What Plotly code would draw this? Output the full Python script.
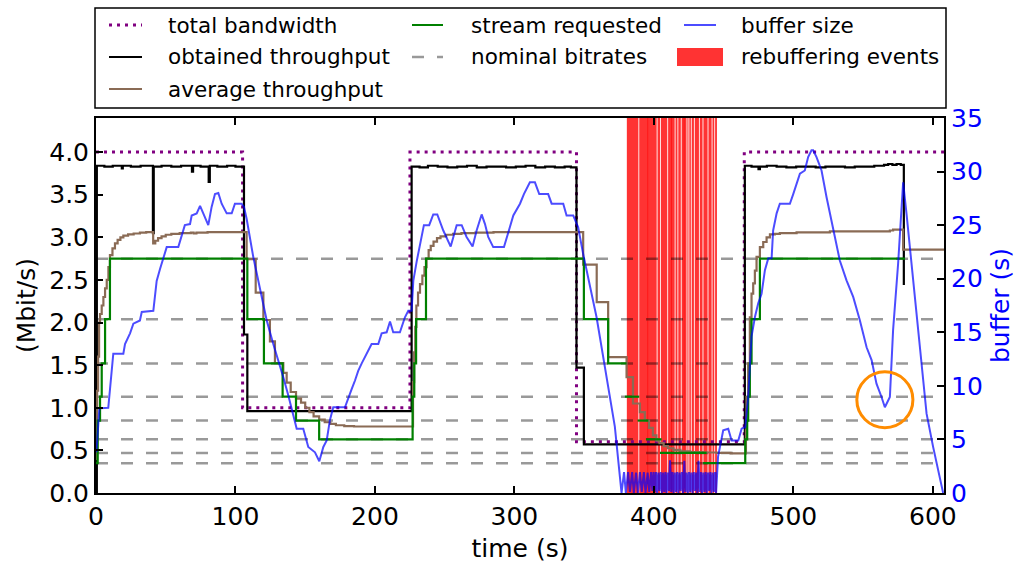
import plotly.graph_objects as go

# ---------------- data ----------------
# total available bandwidth (Mbit/s), step function
bw_t = [0, 105.1, 225.1, 344.5, 464.8, 608]
bw_v = [4.0, 1.0, 4.0, 0.6, 4.0, 4.0]

# obtained throughput (Mbit/s)
obt_t = [0, 0.6, 6, 12, 18.5, 19.2, 25, 32, 40.8, 41.4, 47, 54, 61, 68.8, 69.6, 75,
         80.8, 81.6, 87, 94, 100, 106.1, 108.5, 226.3, 232, 238, 245, 252, 259, 266,
         273, 280, 287, 294, 301, 308, 315, 322, 329, 336, 340.5, 344.5, 349.8, 465.2,
         470, 475, 476, 481, 488, 495, 502, 509, 516, 523, 530, 537, 544, 551, 558,
         565, 568, 571, 574, 577, 579.2]
obt_v = [0, 3.84, 3.83, 3.84, 3.81, 3.84, 3.83, 3.84, 3.05, 3.83, 3.84, 3.83, 3.84, 3.77,
         3.84, 3.83, 3.65, 3.84, 3.83, 3.84, 3.83, 1.86, 0.96, 3.83, 3.82, 3.84, 3.83,
         3.82, 3.83, 3.84, 3.82, 3.83, 3.83, 3.82, 3.83, 3.84, 3.82, 3.83, 3.82, 3.83,
         3.82, 1.47, 0.57, 3.84, 3.83, 3.80, 3.83, 3.84, 3.83, 3.82, 3.83, 3.83, 3.82,
         3.83, 3.83, 3.82, 3.83, 3.83, 3.84, 3.85, 3.86, 3.85, 3.86, 3.85, 2.44]

# average throughput (Mbit/s)
avg_t = [0, 0.8, 1.5, 2.2, 2.9, 4.1, 5.3, 6.5, 7.7, 8.9, 10.0, 11.8, 13.6, 15.5, 17.5,
         19.6, 23, 27, 31.5, 36, 41.0, 42.5, 44.5, 47, 50, 54, 60, 68, 70, 72, 80,
         108.0, 114.5, 120.0, 124.7, 128.3, 134.3, 136.7, 139.6, 143.4, 147, 150, 153,
         156, 160, 164, 168, 172, 178, 185, 227.3, 228.1, 228.9, 229.7, 230.9, 232.3,
         234, 235.5, 237, 238.5, 240, 242, 244.5, 247, 251, 256, 262, 272, 285, 349.3,
         359.0, 367.2, 380.4, 385, 390, 393.5, 396.5, 399.3, 401.8, 404, 407, 410, 414,
         419, 426, 435, 445, 455, 466.0, 466.4, 467.6, 468.8, 470.0, 471.2, 472.4,
         473.6, 476.0, 478.4, 480.8, 483.2, 486.7, 490.3, 502.3, 526.2, 569.2, 571.5,
         578.7, 608]
avg_v = [0.4, 1.2, 1.6, 2.0, 2.1, 2.2, 2.3, 2.4, 2.5, 2.65, 2.79, 2.87, 2.93, 2.97, 3.0,
         3.02, 3.035, 3.045, 3.055, 3.06, 2.93, 2.96, 2.99, 3.01, 3.03, 3.04, 3.05,
         3.055, 3.045, 3.055, 3.06, 2.745, 2.35, 2.03, 1.78, 1.525, 1.41, 1.295, 1.185,
         1.107, 1.06, 1.0, 0.95, 0.9, 0.86, 0.83, 0.81, 0.795, 0.785, 0.78, 1.3, 1.65,
         1.95, 2.2, 2.35, 2.45, 2.55, 2.65, 2.75, 2.85, 2.9, 2.95, 2.99, 3.01, 3.03,
         3.04, 3.05, 3.055, 3.06, 2.68, 2.24, 1.595, 1.36, 1.05, 0.95, 0.85, 0.765,
         0.677, 0.615, 0.585, 0.55, 0.525, 0.505, 0.49, 0.48, 0.475, 0.47, 0.465, 0.735,
         1.126, 1.52, 2.06, 2.34, 2.46, 2.61, 2.77, 2.885, 2.945, 3.0, 3.035, 3.04, 3.05,
         3.058, 3.07, 3.08, 3.09, 2.855, 2.855]

# requested stream bitrate (Mbit/s); None marks breaks during rebuffering
req_t = [0, 1.2, 2.9, 4.1, 6.5, 10.0, 108.5, 120.4, 133.8, 143.4, 160.0, 227.0, 228.2,
         229.5, 236.6, 349.8, 367.2, 380.4, None, 379.2, 389.5, None, 388.3, 396.0,
         None, 394.3, 405.5, None, 404.3, 437.8, None, 435.3, 465.5, 466.9, 467.6,
         468.8, 470.0, 476.0, 580.0]
req_v = [0.35, 0.85, 1.13, 1.52, 2.04, 2.75, 2.04, 1.52, 1.13, 0.85, 0.63, 1.13, 1.52,
         2.04, 2.75, 2.04, 1.52, 1.52, None, 1.13, 1.13, None, 0.85, 0.85, None, 0.63,
         0.63, None, 0.47, 0.47, None, 0.35, 0.63, 0.85, 1.13, 1.52, 2.04, 2.75, 2.75]

# nominal bitrates of the available representations (Mbit/s)
nominal = [0.35, 0.47, 0.63, 0.85, 1.13, 1.52, 2.04, 2.75]

# playback buffer (s)
buf_t = [0.3, 2.4, 8.8, 12.4, 19.6, 20.8, 24.4, 26.8, 31.5, 32.8, 41.1, 43.5, 45.9, 48.3,
         50.7, 59.0, 61.4, 63.7, 67.4, 68.6, 72.2, 74.6, 76.9, 80.5, 82.9, 85.3, 87.7,
         90.1, 93.7, 97.3, 99.6, 104.4, 106.1, 108.0, 112.8, 117.6, 122.4, 127.1, 130.7,
         134.3, 137.9, 141.4, 143.9, 148.6, 152.2, 157.0, 160.1, 163.0, 165.4, 167.7,
         170.1, 178.5, 180.9, 183.3, 185.7, 188.0, 190.5, 194.1, 197.6, 202.4, 204.8,
         208.4, 210.8, 213.1, 217.9, 221.5, 223.9, 226.3, 227.5, 229.9, 232.3, 235.1,
         238.9, 241.8, 244.7, 249.0, 254.3, 258.6, 262.2, 265.7, 270.0, 272.9, 276.5,
         278.9, 281.2, 284.8, 292.5, 295.6, 299.2, 304.0, 306.8, 311.1, 314.7, 317.8,
         324.2, 326.7, 335.0, 337.4, 342.2, 345.7, 349.3, 358.9, 366.1, 372.0, 376.8,
         378.6, 379.9, 381.5, 382.8, 384.4, 385.6, 387.2, 388.5, 390.0, 391.3, 392.8,
         394.0, 395.5, 396.7, 398.0, 398.9, 399.8, 400.6, 401.5, 402.3, 403.2, 404.0,
         404.9, 405.7, 406.6, 407.4, 408.3, 409.1, 410.0, 410.8, 411.6, 412.4, 413.3,
         414.1, 415.0, 415.8, 416.7, 417.5, 418.4, 419.2, 420.1, 420.9, 421.8, 422.6,
         423.5, 424.3, 425.2, 426.0, 426.9, 427.7, 428.6, 429.4, 430.3, 431.1, 432.0,
         432.8, 433.7, 434.5, 435.4, 436.2, 437.1, 437.9, 438.8, 439.6, 440.5, 441.3,
         442.2, 443.0, 443.9, 444.6, 446.0, 449.7, 453.3, 455.7, 460.5, 462.9, 465.5,
         467.6, 468.8, 470.0, 472.4, 474.8, 477.2, 479.6, 482.0, 484.4, 485.5, 488.0,
         490.3, 497.5, 499.9, 502.3, 504.7, 508.2, 510.6, 513.0, 514.2, 516.6, 520.2,
         523.8, 528.5, 533.3, 538.1, 542.9, 547.7, 552.5, 556.1, 559.6, 563.2, 565.6,
         569.2, 571.5, 575.1, 578.7, 581.1, 585.9, 590.7, 595.5, 600.2, 607.4]
buf_v = [3.8, 7.9, 7.95, 13.0, 13.0, 13.9, 14.9, 15.8, 16.1, 16.9, 17.0, 19.8, 20.9, 22.0,
         22.95, 22.95, 24.0, 25.0, 25.1, 25.9, 26.1, 26.8, 26.1, 25.0, 26.7, 27.9, 28.0,
         27.0, 26.1, 26.1, 27.0, 27.0, 26.7, 25.6, 22.0, 18.9, 16.1, 13.9, 12.4, 10.8,
         9.1, 7.4, 6.0, 6.0, 4.3, 3.8, 2.96, 4.3, 4.9, 6.8, 8.0, 8.0, 8.96, 9.7, 10.5,
         11.4, 12.1, 13.0, 13.9, 13.9, 14.9, 15.0, 16.0, 15.0, 15.0, 16.4, 17.0, 17.0,
         19.8, 21.6, 23.3, 25.0, 25.0, 26.0, 26.0, 24.5, 23.0, 25.0, 25.0, 23.9, 23.0,
         24.5, 26.0, 25.1, 23.9, 22.95, 22.95, 24.4, 25.9, 27.0, 27.9, 29.0, 29.0, 27.9,
         27.9, 27.0, 27.0, 25.9, 25.9, 24.8, 22.3, 16.4, 10.8, 6.2, 0.0,
         1.95, 0.0, 1.95, 0.1, 1.95, 0.0, 1.9, 0.0, 1.95, 0.1, 1.95,
         0.0, 1.9, 0.1, 1.95, 0.2, 1.95, 0.1, 1.95, 0.0, 1.9, 0.2,
         1.95, 0.0, 1.9, 0.1, 1.95, 0.0, 1.9, 0.2, 3.05, 0.1, 1.95,
         0.0, 1.9, 0.1, 1.95, 0.0, 1.9, 0.2, 1.95, 0.0, 3.0, 0.1,
         1.9, 0.0, 1.95, 0.1, 1.9, 0.0, 1.95, 0.2, 1.9, 0.0, 3.0,
         0.1, 1.95, 0.0, 1.9, 0.1, 1.95, 0.0, 1.9, 0.2, 1.95, 0.0,
         1.9, 0.1, 1.95, 0.0, 3.4, 5.85, 6.0, 4.9, 4.9, 6.0, 6.16,
         8.96, 12.1, 14.6, 16.4, 17.7, 18.6, 20.8, 21.9, 21.9, 24.5, 26.1,
         27.0, 27.0, 27.9, 28.9, 29.8, 30.1, 31.35, 31.98, 31.98, 31.35, 30.1,
         27.6, 24.5, 21.7, 19.85, 18.3, 16.1, 13.6, 12.4, 10.2, 8.96, 8.0,
         8.96, 15.2, 21.4, 29.0, 26.1, 19.85, 13.6, 7.4, 4.3, 0.0]

# rebuffering events (start, end in s)
rb_start = [380.6, 389.5, 395.4, 402.6, 405.0, 410.2, 412.3, 415.5, 417.5, 419.9, 421.4,
            424.0, 425.4, 427.1, 429.3, 432.9, 435.5, 439.1, 442.0, 443.9]
rb_end = [388.9, 395.9, 402.0, 404.4, 409.6, 412.8, 414.9, 416.9, 419.3, 421.9, 423.4,
          424.8, 426.5, 428.7, 432.3, 434.9, 438.5, 441.4, 443.3, 445.2]

# highlighted buffer dip (centre time, centre buffer level, radii)
mark_t, mark_b, mark_rt, mark_rb = 565.6, 8.7, 20.1, 2.61

x_ticks = [0, 100, 200, 300, 400, 500, 600]
y_ticks = [0.0, 0.5, 1.0, 1.5, 2.0, 2.5, 3.0, 3.5, 4.0]
y2_ticks = [0, 5, 10, 15, 20, 25, 30, 35]

# ---------------- styles ----------------
FONT = "DejaVu Sans"
C_BW = "#800080"
C_OBT = "#000000"
C_AVG = "#8a6b55"
C_REQ = "#008000"
C_NOM = "rgba(0,0,0,0.4)"
C_BUF = "rgba(0,0,255,0.7)"
C_RB = "rgba(255,0,0,0.8)"
NOM_DASH = "12px,13px"
BW_DASH = "3px,5px"
Y_TOP = 4.4

fig = go.Figure()

# rebuffering events: one full-height filled span per event
for s, e in zip(rb_start, rb_end):
    fig.add_trace(go.Scatter(
        x=[s, s, e, e, s], y=[0, Y_TOP, Y_TOP, 0, 0], mode="lines",
        fill="toself", fillcolor=C_RB, line=dict(width=0, color="rgba(0,0,0,0)"),
        hoverinfo="skip", name="rebuffering events",
    ))

nx, ny = [], []
for lv in nominal:
    nx += [0, 608, None]
    ny += [lv, lv, None]
fig.add_trace(go.Scatter(x=nx, y=ny, mode="lines", name="nominal bitrates",
                         line=dict(color=C_NOM, width=2.5, dash=NOM_DASH)))

fig.add_trace(go.Scatter(x=bw_t, y=bw_v, mode="lines", name="total bandwidth",
                         line=dict(color=C_BW, width=3, dash=BW_DASH, shape="hv")))
fig.add_trace(go.Scatter(x=obt_t, y=obt_v, mode="lines", name="obtained throughput",
                         line=dict(color=C_OBT, width=2.2, shape="hv")))
fig.add_trace(go.Scatter(x=avg_t, y=avg_v, mode="lines", name="average throughput",
                         line=dict(color=C_AVG, width=2.2, shape="hv")))
fig.add_trace(go.Scatter(x=req_t, y=req_v, mode="lines", name="stream requested",
                         connectgaps=False,
                         line=dict(color=C_REQ, width=2.2, shape="hv")))
fig.add_trace(go.Scatter(x=buf_t, y=buf_v, mode="lines", name="buffer size", yaxis="y2",
                         line=dict(color=C_BUF, width=2)))

# ---------------- layout ----------------
L, R, T, B = 96, 944, 118, 493
W, H = 1018, 565


def px(x):
    return (x - L) / (R - L)


def py(y):
    return (B - y) / (B - T)


shapes = [
    dict(type="circle", xref="x", yref="y2",
         x0=mark_t - mark_rt, x1=mark_t + mark_rt,
         y0=mark_b - mark_rb, y1=mark_b + mark_rb,
         line=dict(color="#ff8c00", width=3), layer="above"),
    # legend frame
    dict(type="rect", xref="paper", yref="paper",
         x0=px(95), x1=px(946), y0=py(108), y1=py(8),
         line=dict(color="black", width=1.5), fillcolor="white", layer="above"),
]
annotations = []

legend_items = [
    # (handle x0, x1, row y, text x, label, kind, colour, dash)
    (109, 142, 25, 166, "total bandwidth", "line", C_BW, BW_DASH),
    (109, 142, 57, 166, "obtained throughput", "line", C_OBT, "solid"),
    (109, 142, 89, 166, "average throughput", "line", C_AVG, "solid"),
    (412, 443, 25, 469, "stream requested", "line", C_REQ, "solid"),
    (412, 443, 57, 469, "nominal bitrates", "line", C_NOM, NOM_DASH),
    (684, 716, 25, 739, "buffer size", "line", C_BUF, "solid"),
    (677, 723, 57, 739, "rebuffering events", "patch", C_RB, None),
]
for x0, x1, yy, tx, label, kind, col, dash in legend_items:
    if kind == "line":
        w = 3 if col == C_BW else (2.5 if col == C_NOM else 2)
        shapes.append(dict(type="line", xref="paper", yref="paper",
                           x0=px(x0), x1=px(x1), y0=py(yy), y1=py(yy),
                           line=dict(color=col, width=w, dash=dash), layer="above"))
    else:
        shapes.append(dict(type="rect", xref="paper", yref="paper",
                           x0=px(x0), x1=px(x1), y0=py(yy + 9), y1=py(yy - 9),
                           fillcolor=col, line=dict(width=0), layer="above"))
    annotations.append(dict(xref="paper", yref="paper", x=px(tx), y=py(yy),
                            text=label, showarrow=False, xanchor="left",
                            yanchor="middle",
                            font=dict(family=FONT, size=21.5, color="black")))

axis_common = dict(showgrid=False, zeroline=False, showline=True, linecolor="black",
                   linewidth=2, ticks="inside", ticklen=7, tickwidth=1.5,
                   tickcolor="black", automargin=False)

fig.update_layout(
    template="none",
    width=W, height=H,
    margin=dict(l=L, r=W - R, t=T, b=H - B, pad=0),
    paper_bgcolor="white", plot_bgcolor="white",
    font=dict(family=FONT, size=24, color="black"),
    showlegend=False,
    xaxis=dict(range=[0, 608], tickvals=x_ticks, mirror="ticks",
               tickfont=dict(size=25),
               title=dict(text="time (s)", font=dict(size=25), standoff=9),
               **axis_common),
    yaxis=dict(range=[0, Y_TOP], tickvals=y_ticks,
               ticktext=[f"{v:.1f}" for v in y_ticks], tickfont=dict(size=25),
               title=dict(text="(Mbit/s)", font=dict(size=25), standoff=6),
               **axis_common),
    yaxis2=dict(range=[0, 35], tickvals=y2_ticks, overlaying="y", side="right",
                tickfont=dict(size=25, color="blue"),
                title=dict(text="buffer (s)", font=dict(size=25, color="blue"),
                           standoff=10),
                **axis_common),
    shapes=shapes,
    annotations=annotations,
)

fig.write_html("out.html")
